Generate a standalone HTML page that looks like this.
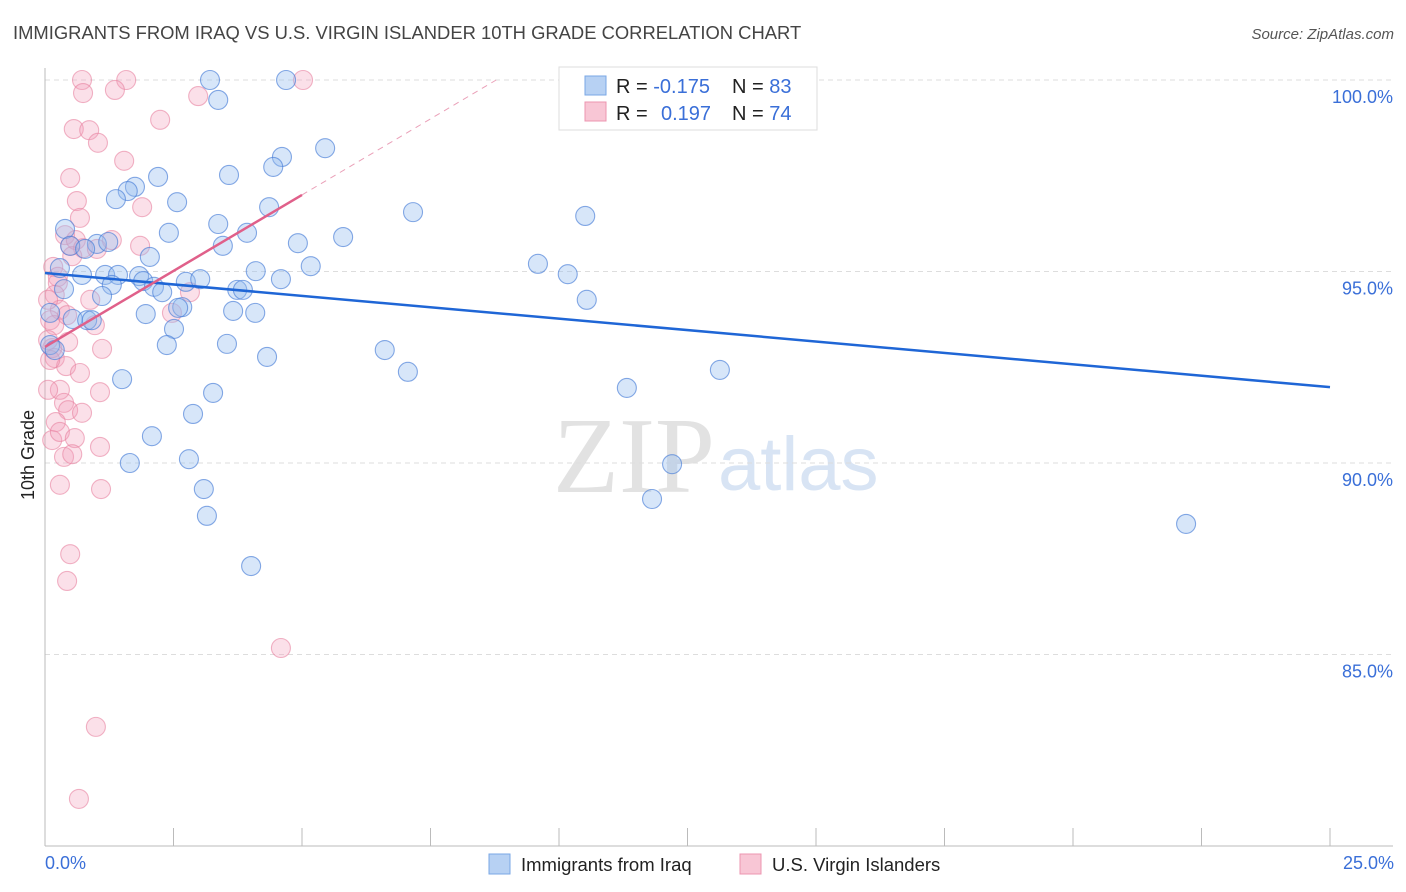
<!DOCTYPE html>
<html><head><meta charset="utf-8"><style>
body{margin:0;background:#fff;font-family:"Liberation Sans",sans-serif;}
#wrap{position:relative;width:1406px;height:892px;overflow:hidden;}
</style></head><body><div id="wrap">
<svg id="svg" width="1406" height="892" xmlns="http://www.w3.org/2000/svg" style="position:absolute;left:0;top:0">
<text x="13" y="39" font-size="18.4" fill="#444">IMMIGRANTS FROM IRAQ VS U.S. VIRGIN ISLANDER 10TH GRADE CORRELATION CHART</text>
<text x="1394" y="39" font-size="15" fill="#555" font-style="italic" text-anchor="end">Source: ZipAtlas.com</text>
<text x="553" y="492" font-size="108" fill="#e2e2e2" font-family="Liberation Serif,serif">ZIP</text>
<text x="718" y="490" font-size="76" fill="#d8e4f4">atlas</text>
<g id="grid"></g><g id="axes"></g><g id="pts"></g><g id="trend"></g>
<text transform="translate(34,455) rotate(-90)" font-size="18" fill="#222" text-anchor="middle">10th Grade</text>
<g>
<rect x="559" y="67" width="258" height="63" fill="#fff" stroke="#ddd"/>
<rect x="585" y="76" width="21" height="19" fill="#b7d1f3" stroke="#7aa7e6"/>
<rect x="585" y="102" width="21" height="19" fill="#f8c6d5" stroke="#ec95b0"/>
<text x="616" y="93" font-size="20" fill="#222">R = <tspan fill="#3a6fd8">-0.175</tspan></text>
<text x="732" y="93" font-size="20" fill="#222">N = <tspan fill="#3a6fd8">83</tspan></text>
<text x="616" y="120" font-size="20" fill="#222">R = <tspan fill="#3a6fd8" x="661">0.197</tspan></text>
<text x="732" y="120" font-size="20" fill="#222">N = <tspan fill="#3a6fd8">74</tspan></text>
</g>
<g>
<rect x="489" y="854" width="21" height="20" fill="#b7d1f3" stroke="#7aa7e6"/>
<text x="521" y="871" font-size="18.5" fill="#222">Immigrants from Iraq</text>
<rect x="740" y="854" width="21" height="20" fill="#f8c6d5" stroke="#ec95b0"/>
<text x="772" y="871" font-size="18.5" fill="#222">U.S. Virgin Islanders</text>
</g>
</svg>
<script>
const yTicks=[100,95,90,85];
const xTickLabels=["0.0%","25.0%"];
const blueX=[3.21,4.69,14.07,3.37,5.45,4.61,4.44,3.58,2.20,1.75,1.61,1.38,2.57,4.36,7.16,10.51,3.37,2.41,3.93,5.80,0.39,3.46,4.92,0.49,1.01,1.23,0.78,2.04,9.59,5.17,10.17,4.10,0.29,0.72,1.17,1.42,1.83,2.74,1.91,3.02,4.59,0.37,1.30,2.12,2.28,3.74,3.85,1.11,10.54,2.67,2.59,3.66,4.09,1.96,0.10,0.54,0.82,0.91,2.51,3.54,2.37,0.10,4.32,0.19,6.61,7.06,13.13,11.32,1.50,3.27,2.88,2.08,2.80,1.65,12.20,3.09,3.15,11.81,22.20,4.01];
const blueY=[100,100,100,99.48,98.22,97.99,97.73,97.52,97.47,97.21,97.10,96.89,96.81,96.68,96.55,96.45,96.24,96.01,96.01,95.90,96.11,95.67,95.74,95.67,95.72,95.77,95.59,95.38,95.20,95.14,94.93,95.01,95.09,94.91,94.91,94.91,94.88,94.73,94.75,94.80,94.80,94.54,94.65,94.60,94.46,94.52,94.52,94.36,94.26,94.07,94.05,93.97,93.92,93.89,93.92,93.76,93.73,93.73,93.50,93.11,93.08,93.08,92.77,92.95,92.95,92.38,92.43,91.96,92.19,91.83,91.28,90.70,90.10,90.00,89.97,89.32,88.62,89.06,88.41,87.31];
const pinkX=[0.72,5.02,1.58,0.74,1.36,2.98,2.24,0.56,0.86,1.03,1.54,0.49,1.89,0.62,0.68,0.39,0.49,0.60,0.74,1.01,1.30,1.85,0.16,0.25,0.25,0.53,0.19,0.88,2.82,2.47,0.29,0.10,0.18,0.43,0.97,0.14,0.45,1.11,0.19,0.41,0.68,0.29,1.07,0.06,0.37,0.45,0.72,0.21,0.14,0.29,0.58,1.07,0.37,0.53,0.29,1.09,0.49,0.43,4.59,0.99,0.66,0.06,0.06,0.10];
const pinkY=[100,100,100,99.66,99.74,99.58,98.96,98.72,98.69,98.36,97.89,97.44,96.68,96.84,96.40,95.95,95.67,95.82,95.61,95.59,95.82,95.67,95.12,94.86,94.70,95.40,94.39,94.26,94.46,93.92,94.00,93.73,93.60,93.86,93.60,93.00,93.16,92.98,92.74,92.53,92.35,91.91,91.85,91.91,91.57,91.38,91.31,91.07,90.60,90.81,90.65,90.42,90.16,90.23,89.43,89.32,87.62,86.92,85.17,83.11,81.23,94.26,93.21,92.69];
const blueTrend=[94.96,91.98];
const pinkTrend=[93.03,0.794];
const NS="http://www.w3.org/2000/svg";
const X0=45,X1=1330;
function sx(v){return X0+v/25*(X1-X0);}
function sy(v){return 80+(100-v)*38.3;}
function mk(t,a,p){const e=document.createElementNS(NS,t);for(const k in a)e.setAttribute(k,a[k]);document.getElementById(p).appendChild(e);return e;}
yTicks.forEach(v=>{
 const l=mk('line',{x1:X0,x2:1393,y1:sy(v),y2:sy(v),stroke:'#ddd','stroke-dasharray':'5,4'},'grid');
 
 
 const t=mk('text',{x:1393,y:sy(v)+23,'font-size':18,fill:'#3a6fd8','text-anchor':'end'},'grid');
 t.textContent=v.toFixed(1)+'%';
 
 
});
const ax=mk('line',{x1:X0,x2:X0,y1:68,y2:846,stroke:'#bbb'},'axes');


const bx=mk('line',{x1:X0,x2:1393,y1:846,y2:846,stroke:'#bbb'},'axes');


for(let i=0;i<=10;i++){
 const t=mk('line',{x1:sx(i*2.5),x2:sx(i*2.5),y1:828,y2:846,stroke:'#bbb'},'axes');
 
 
}
[[0,'start',45],[25,'end',1394]].forEach((d,i)=>{
 const t=mk('text',{x:d[2],y:869,'font-size':18,fill:'#3a6fd8','text-anchor':d[1]},'axes');
 t.textContent=xTickLabels[i];
 
 
});
pinkX.forEach((x,i)=>{
 const c=mk('circle',{cx:sx(x),cy:sy(pinkY[i]),r:9.5,fill:'rgba(244,160,186,0.32)',stroke:'rgba(232,130,160,0.6)','stroke-width':1.1},'pts');
 
 
});
blueX.forEach((x,i)=>{
 const c=mk('circle',{cx:sx(x),cy:sy(blueY[i]),r:9.5,fill:'rgba(150,190,240,0.38)',stroke:'rgba(70,125,215,0.65)','stroke-width':1.1},'pts');
 
 
});
const bl=mk('line',{x1:sx(0),y1:sy(blueTrend[0]),x2:sx(25),y2:sy(blueTrend[1]),stroke:'#1f66d6','stroke-width':2.5},'trend');


const pEnd=5.0, pDash=(100-pinkTrend[0])/pinkTrend[1];
const pl=mk('line',{x1:sx(0),y1:sy(pinkTrend[0]),x2:sx(pEnd),y2:sy(pinkTrend[0]+pinkTrend[1]*pEnd),stroke:'#e0608a','stroke-width':2.5},'trend');


const pd=mk('line',{x1:sx(pEnd),y1:sy(pinkTrend[0]+pinkTrend[1]*pEnd),x2:sx(pDash),y2:sy(100),stroke:'#eaa0b8','stroke-width':1,'stroke-dasharray':'6,5'},'trend');


</script>
</div></body></html>
